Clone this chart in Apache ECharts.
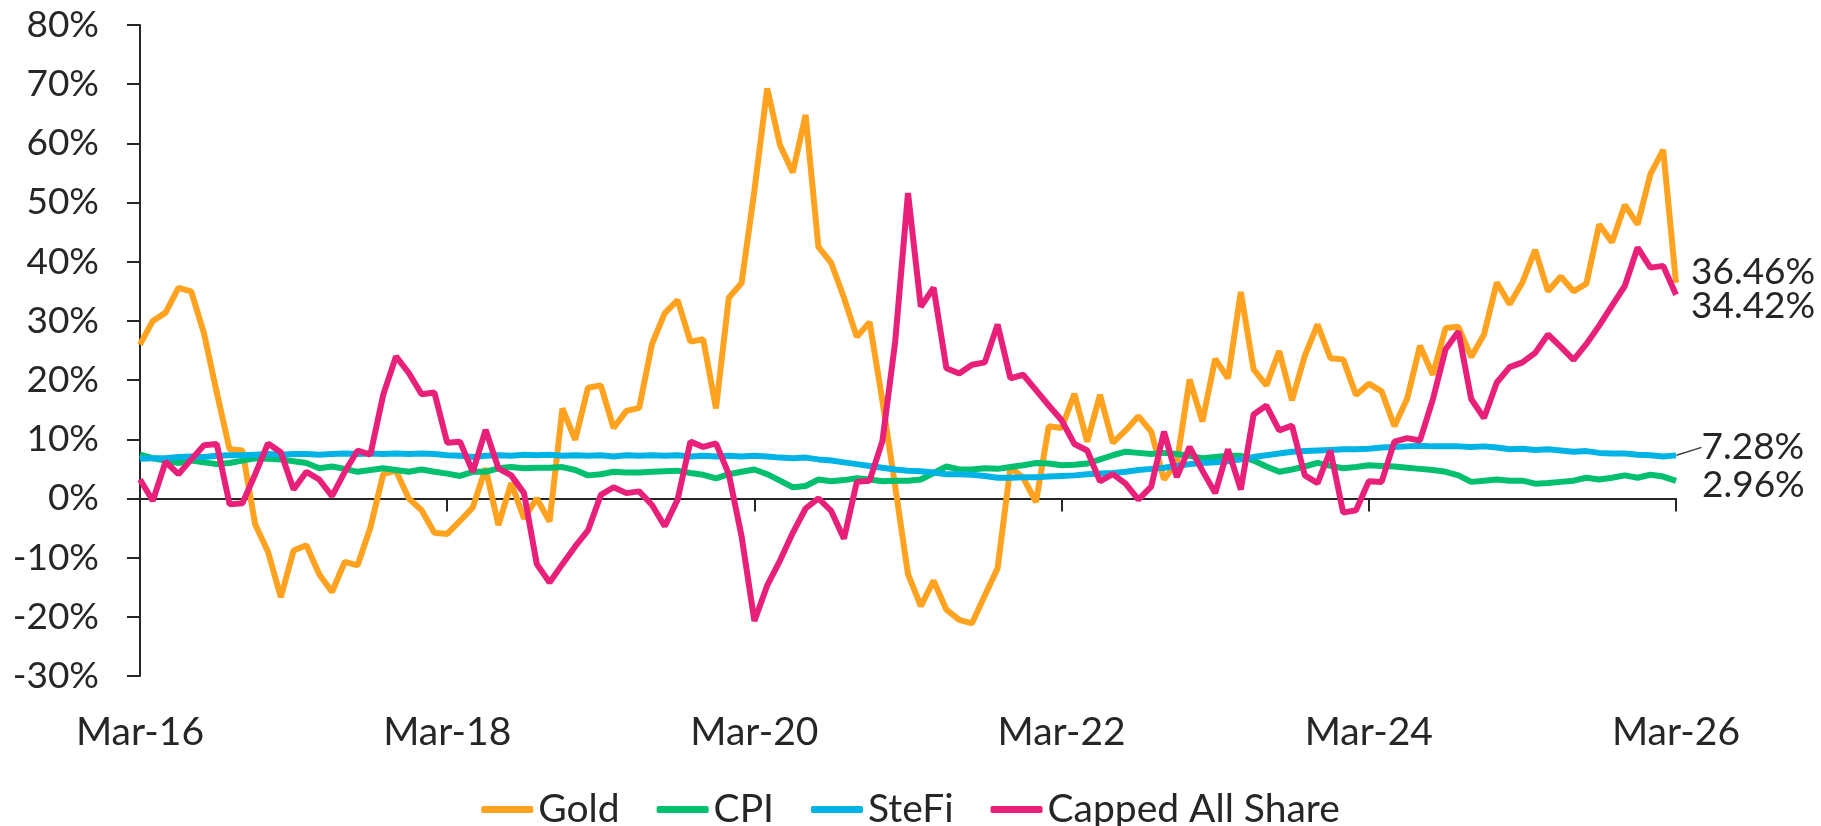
<!DOCTYPE html>
<html>
<head>
<meta charset="utf-8">
<script src="https://cdn.jsdelivr.net/npm/echarts@6/dist/echarts.min.js"></script>
<style>
html,body{margin:0;padding:0;background:#fff;}
#chart{width:1821px;height:826px;}
</style>
</head>
<body>
<div id="chart"></div>
<script>
const categories = [
"Mar-16","Apr-16","May-16","Jun-16","Jul-16","Aug-16","Sep-16","Oct-16","Nov-16","Dec-16",
"Jan-17","Feb-17","Mar-17","Apr-17","May-17","Jun-17","Jul-17","Aug-17","Sep-17","Oct-17","Nov-17","Dec-17",
"Jan-18","Feb-18","Mar-18","Apr-18","May-18","Jun-18","Jul-18","Aug-18","Sep-18","Oct-18","Nov-18","Dec-18",
"Jan-19","Feb-19","Mar-19","Apr-19","May-19","Jun-19","Jul-19","Aug-19","Sep-19","Oct-19","Nov-19","Dec-19",
"Jan-20","Feb-20","Mar-20","Apr-20","May-20","Jun-20","Jul-20","Aug-20","Sep-20","Oct-20","Nov-20","Dec-20",
"Jan-21","Feb-21","Mar-21","Apr-21","May-21","Jun-21","Jul-21","Aug-21","Sep-21","Oct-21","Nov-21","Dec-21",
"Jan-22","Feb-22","Mar-22","Apr-22","May-22","Jun-22","Jul-22","Aug-22","Sep-22","Oct-22","Nov-22","Dec-22",
"Jan-23","Feb-23","Mar-23","Apr-23","May-23","Jun-23","Jul-23","Aug-23","Sep-23","Oct-23","Nov-23","Dec-23",
"Jan-24","Feb-24","Mar-24","Apr-24","May-24","Jun-24","Jul-24","Aug-24","Sep-24","Oct-24","Nov-24","Dec-24",
"Jan-25","Feb-25","Mar-25","Apr-25","May-25","Jun-25","Jul-25","Aug-25","Sep-25","Oct-25","Nov-25","Dec-25",
"Jan-26","Feb-26","Mar-26"];

const seriesNames = ["Gold","CPI","SteFi","Capped All Share"];

const gold = [26.0,30.0,31.4,35.6,35.0,27.9,17.9,8.3,8.1,-4.4,
-9.0,-16.7,-8.8,-7.9,-12.8,-15.8,-10.7,-11.3,-4.9,4.1,
4.7,0.0,-2.0,-5.8,-6.0,-3.8,-1.5,5.1,-4.5,2.6,
-3.4,0.0,-3.9,15.2,9.9,18.7,19.1,11.9,14.8,15.3,
26.1,31.3,33.5,26.5,26.9,15.2,33.9,36.4,52.0,69.3,
59.7,55.1,64.8,42.5,39.8,33.9,27.3,29.8,16.5,2.0,
-12.8,-18.2,-13.9,-18.8,-20.5,-21.1,-16.4,-11.8,5.3,3.5,
-0.6,12.2,11.9,17.7,9.6,17.5,9.4,11.5,13.9,11.3,
3.2,6.0,20.1,13.0,23.6,20.3,34.9,21.8,19.1,24.9,
16.6,24.1,29.4,23.7,23.5,17.5,19.4,18.1,12.2,16.9,
25.8,20.9,28.8,29.0,23.9,27.7,36.5,32.8,36.5,42.0,
35.0,37.5,35.0,36.3,46.3,43.3,49.6,46.3,54.8,58.9,
36.46];

const cpi = [7.4,6.8,6.4,6.0,6.4,6.1,5.8,6.0,6.4,6.8,
6.7,6.6,6.3,6.0,5.1,5.4,5.0,4.5,4.8,5.1,
4.8,4.5,4.9,4.5,4.2,3.8,4.5,4.5,5.1,5.3,
5.1,5.2,5.2,5.3,4.8,3.9,4.1,4.5,4.4,4.4,
4.5,4.6,4.7,4.3,4.0,3.4,4.1,4.5,4.9,4.1,
3.0,1.9,2.1,3.2,2.9,3.1,3.4,3.2,2.9,3.0,
3.0,3.2,4.3,5.4,4.9,4.9,5.1,5.0,5.3,5.6,
6.0,5.9,5.6,5.7,5.9,6.6,7.3,7.9,7.7,7.5,
7.7,7.5,7.2,6.8,7.0,7.2,7.2,6.4,5.4,4.5,
4.9,5.4,6.0,5.5,5.1,5.3,5.6,5.5,5.4,5.2,
5.0,4.8,4.5,3.9,2.8,3.0,3.2,3.0,3.0,2.5,
2.6,2.8,3.0,3.5,3.2,3.5,3.9,3.5,4.0,3.7,
2.96];

const stefi = [6.7,6.8,6.8,7.0,7.1,7.0,7.2,7.3,7.3,7.4,
7.5,7.4,7.5,7.5,7.4,7.5,7.6,7.5,7.6,7.5,
7.6,7.5,7.6,7.5,7.3,7.2,7.0,7.2,7.3,7.2,
7.4,7.3,7.4,7.2,7.3,7.2,7.3,7.1,7.3,7.2,
7.3,7.2,7.3,7.1,7.2,7.1,7.2,7.1,7.2,7.1,
6.9,6.8,6.9,6.6,6.4,6.1,5.8,5.5,5.2,4.9,
4.7,4.6,4.4,4.1,4.1,4.0,3.8,3.5,3.5,3.6,
3.6,3.7,3.8,3.9,4.1,4.2,4.3,4.5,4.8,5.0,
5.2,5.5,5.8,6.0,6.1,6.3,6.6,7.0,7.3,7.6,
7.9,8.0,8.1,8.2,8.3,8.3,8.4,8.6,8.7,8.8,
8.9,8.8,8.8,8.8,8.7,8.8,8.6,8.3,8.4,8.2,
8.3,8.1,7.9,8.0,7.7,7.6,7.6,7.4,7.3,7.1,
7.28];

const cappedAllShare = [3.2,-0.4,6.2,4.1,6.6,9.0,9.2,-1.0,-0.8,4.1,
9.3,7.8,1.5,4.5,3.2,0.4,4.5,8.1,7.4,17.5,
24.0,21.2,17.6,17.9,9.4,9.6,4.5,11.6,5.1,3.9,
0.9,-11.1,-14.2,-11.1,-8.1,-5.4,0.6,1.9,0.9,1.2,
-1.1,-4.7,-0.2,9.6,8.7,9.3,4.1,-6.4,-20.7,-14.7,
-10.5,-5.8,-1.7,0.0,-2.1,-6.8,2.8,3.0,9.7,26.5,
51.6,32.4,35.6,22.0,21.1,22.6,23.0,29.4,20.3,20.9,
18.3,15.7,13.2,9.2,8.1,2.9,4.1,2.5,-0.2,2.0,
11.3,3.6,8.7,4.7,0.9,8.3,1.5,14.2,15.7,11.5,
12.3,3.9,2.6,8.1,-2.4,-2.0,2.9,2.8,9.6,10.2,
9.8,16.7,25.2,28.2,16.8,13.6,19.6,22.2,23.0,24.6,
27.7,25.6,23.4,26.1,29.2,32.6,35.9,42.4,39.0,39.3,
34.42];

const yMin = -30, yMax = 80, yStep = 10;

const colors = { gold:'#FFA21F', cpi:'#00BF6F', stefi:'#00B3E6', capped:'#E8207A' };
const FONT = 'Lato';
const TXT = '#262626';

const chart = echarts.init(document.getElementById('chart'), null, {renderer:'canvas'});

function endLbl(distance, dy){
  return {
    show:true, distance:distance, offset:[0,dy],
    formatter: p => Number(p.value).toFixed(2) + '%',
    fontFamily:FONT, fontSize:37, color:TXT
  };
}

const lastIdx = stefi.length - 1;
const stefiData = stefi.map((v,i) => i === lastIdx ? {
  value:v,
  label:{show:true, position:'right', distance:5,
    formatter: p => Number(p.value).toFixed(2) + '%',
    fontFamily:FONT, fontSize:37, color:TXT},
  labelLine:{show:true, lineStyle:{color:'#404040', width:1.5}}
} : v);

chart.setOption({
  animation:false,
  backgroundColor:'#ffffff',
  grid:{left:140, right:145, top:25, bottom:150, containLabel:false},
  legend:{
    data:seriesNames, left:'center', top:785,
    icon:'roundRect', itemWidth:52, itemHeight:7, itemGap:37,
    textStyle:{fontFamily:FONT, fontSize:39, color:TXT}
  },
  xAxis:[{
    type:'category', data:categories, boundaryGap:false,
    axisLine:{show:true, onZero:true, lineStyle:{color:TXT, width:2}},
    axisTick:{show:true, interval:23, length:13, lineStyle:{color:TXT, width:2}},
    axisLabel:{show:false}, splitLine:{show:false}
  },{
    type:'category', data:categories, boundaryGap:false, position:'bottom',
    axisLine:{show:false, onZero:false}, axisTick:{show:false},
    axisLabel:{show:true, interval:23, margin:37, fontFamily:FONT, fontSize:39, color:TXT},
    splitLine:{show:false}
  }],
  yAxis:{
    type:'value', min:yMin, max:yMax, interval:yStep,
    axisLine:{show:true, lineStyle:{color:TXT, width:2}},
    axisTick:{show:true, length:13, lineStyle:{color:TXT, width:2}},
    axisLabel:{margin:41, formatter:'{value}%', fontFamily:FONT, fontSize:37, color:TXT},
    splitLine:{show:false}
  },
  series:[
    {name:'Gold', type:'line', data:gold, showSymbol:false, color:colors.gold,
     lineStyle:{width:6, color:colors.gold}, endLabel:endLbl(15,-11)},
    {name:'CPI', type:'line', data:cpi, showSymbol:false, color:colors.cpi,
     lineStyle:{width:6, color:colors.cpi}, endLabel:endLbl(26,4)},
    {name:'SteFi', type:'line', data:stefiData, showSymbol:true, showAllSymbol:true,
     symbol:'circle', symbolSize:1, color:colors.stefi,
     itemStyle:{color:colors.stefi},
     lineStyle:{width:6, color:colors.stefi},
     labelLayout: p => p.dataIndex === lastIdx ? {dx:20, dy:-8} : {}},
    {name:'Capped All Share', type:'line', data:cappedAllShare, showSymbol:false, color:colors.capped,
     lineStyle:{width:6, color:colors.capped}, endLabel:endLbl(15,11)}
  ]
});
</script>
</body>
</html>
